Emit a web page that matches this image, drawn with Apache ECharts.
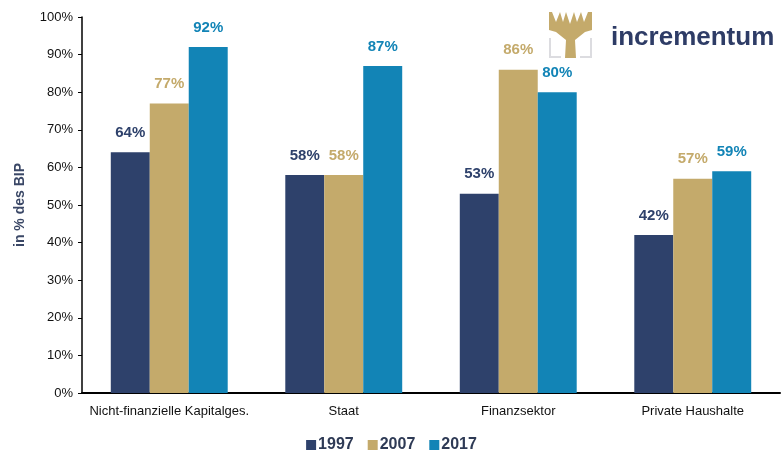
<!DOCTYPE html>
<html>
<head>
<meta charset="utf-8">
<script src="https://cdn.jsdelivr.net/npm/echarts@6/dist/echarts.min.js"></script>
<style>
  html, body { margin: 0; padding: 0; background: #fff; }
  #chart { width: 783px; height: 456px; }
</style>
</head>
<body>
<div id="chart"></div>
<script>
const categories = ['Nicht-finanzielle Kapitalges.', 'Staat', 'Finanzsektor', 'Private Haushalte']
const years = ['1997', '2007', '2017']
const values1997 = [64, 58, 53, 42]
const values2007 = [77, 58, 86, 57]
const values2017 = [92, 87, 80, 59]
const colors = ['#2e416b', '#c4aa6b', '#1284b6']

const chart = echarts.init(document.getElementById('chart'))

const makeSeries = (name, data, color) => ({
  name: name,
  type: 'bar',
  data: data,
  barGap: '0%',
  barCategoryGap: '33%',
  itemStyle: { color: color },
  label: {
    show: true,
    position: 'top',
    distance: 12,
    formatter: '{c}%',
    color: color,
    fontFamily: 'Liberation Sans',
    fontWeight: 'bold',
    fontSize: 15
  }
})

const option = {
  animation: false,
  textStyle: { fontFamily: 'Liberation Sans' },
  grid: { left: 82, right: 3, top: 17, bottom: 63 },
  legend: {
    top: 432,
    left: 'center',
    itemWidth: 10,
    itemHeight: 10,
    itemGap: 14,
    icon: 'rect',
    textStyle: { color: '#2e3a55', fontWeight: 'bold', fontSize: 16, padding: [0, 0, 0, -3] },
    data: years
  },
  xAxis: {
    type: 'category',
    data: categories,
    axisLine: { lineStyle: { color: '#000', width: 2 } },
    axisTick: { show: false },
    axisLabel: { interval: 0, color: '#111', fontSize: 13, margin: 12 }
  },
  yAxis: {
    type: 'value',
    min: 0,
    max: 100,
    interval: 10,
    name: 'in % des BIP',
    nameLocation: 'middle',
    nameGap: 55,
    nameTextStyle: { color: '#3a4766', fontWeight: 'bold', fontSize: 14 },
    axisLine: { show: true, lineStyle: { color: '#000', width: 1.5 } },
    axisTick: { show: true, inside: false, length: 4, lineStyle: { color: '#000' } },
    axisLabel: { formatter: '{value}%', color: '#111', fontSize: 13, margin: 9 },
    splitLine: { show: false }
  },
  series: [
    makeSeries(years[0], values1997, colors[0]),
    makeSeries(years[1], values2007, colors[1]),
    makeSeries(years[2], values2017, colors[2])
  ],
  graphic: [
    // logo: tree icon with grey frame
    { type: 'rect', shape: { x: 549, y: 38, width: 2, height: 20 }, style: { fill: '#dcdce0' } },
    { type: 'rect', shape: { x: 549, y: 56, width: 12, height: 2 }, style: { fill: '#dcdce0' } },
    { type: 'rect', shape: { x: 590, y: 38, width: 2, height: 20 }, style: { fill: '#dcdce0' } },
    { type: 'rect', shape: { x: 580, y: 56, width: 12, height: 2 }, style: { fill: '#dcdce0' } },
    { type: 'polygon', shape: { points: [[565, 58], [566, 40], [556, 32], [549, 30], [549, 12], [552, 12], [556, 22], [560, 12], [563, 22], [566, 12], [570, 24], [574, 12], [577, 22], [581, 12], [584, 22], [588, 12], [592, 12], [592, 30], [585, 32], [575, 40], [576, 58]] }, style: { fill: '#c4aa6b' } },
    { type: 'text', left: 611, top: 25, style: { text: 'incrementum', fill: '#2e3c66', font: 'bold 26px "Liberation Sans"' } }
  ]
}

option && chart.setOption(option)
</script>
</body>
</html>
